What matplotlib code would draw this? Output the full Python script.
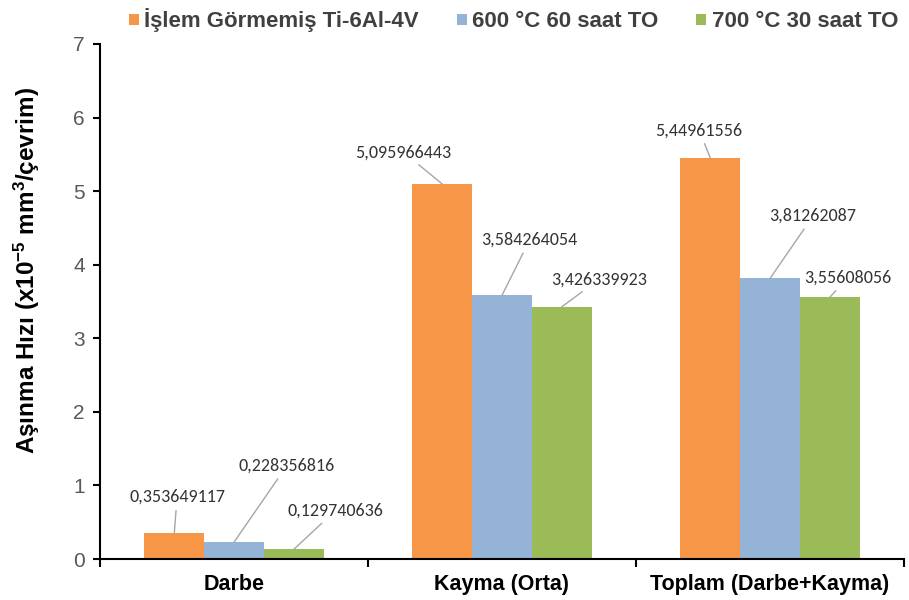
import matplotlib
matplotlib.use("Agg")
import matplotlib.pyplot as plt
import numpy as np

categories = ["Darbe", "Kayma (Orta)", "Toplam (Darbe+Kayma)"]
series_names = ["İşlem Görmemiş Ti-6Al-4V", "600 °C 60 saat TO", "700 °C 30 saat TO"]
untreated = [0.353649117, 5.095966443, 5.44961556]
treated_600 = [0.228356816, 3.584264054, 3.81262087]
treated_700 = [0.129740636, 3.426339923, 3.55608056]
y_ticks = [0, 1, 2, 3, 4, 5, 6, 7]

colors = ["#F79646", "#95B3D7", "#9BBB59"]
# label offsets (points) from each bar's top centre, per series then category
label_offsets = [
    [(2, 26), (-28, 23), (-8, 20)],
    [(38, 55), (20, 40), (31, 45)],
    [(30, 28), (27, 20), (13, 14)],
]

plt.rcParams["font.family"] = ["Liberation Sans", "DejaVu Sans"]
plt.rcParams["mathtext.fontset"] = "custom"
plt.rcParams["mathtext.rm"] = "Liberation Sans:bold"
plt.rcParams["mathtext.it"] = "Liberation Sans:bold"
plt.rcParams["mathtext.bf"] = "Liberation Sans:bold"

fig = plt.figure(figsize=(9.09, 6.0), dpi=100)
ax = fig.add_axes([0.110, 0.0683, 0.8845, 0.8584])

x = np.arange(len(categories))
width = 0.2227
data = [untreated, treated_600, treated_700]
bars = []
for i, (vals, c) in enumerate(zip(data, colors)):
    b = ax.bar(x + (i - 1) * width, vals, width, color=c, edgecolor="none",
               label=series_names[i], zorder=2)
    bars.append(b)
    for j, rect in enumerate(b):
        v = vals[j]
        txt = str(v).replace(".", ",")
        ax.annotate(txt, xy=(rect.get_x() + rect.get_width() / 2, v),
                    xytext=label_offsets[i][j], textcoords="offset points",
                    ha="center", va="center", fontsize=13, color="#333333",
                    family=["Carlito", "Lato", "DejaVu Sans"],
                    arrowprops=dict(arrowstyle="-", color="#A6A6A6", lw=1.0,
                                    shrinkA=2, shrinkB=0))

ax.set_xlim(-0.5, 2.5)
ax.set_ylim(0, 7)
ax.set_yticks(y_ticks)
ax.set_yticklabels([str(t) for t in y_ticks], fontsize=15, color="#595959")
ax.set_xticks(x)
ax.set_xticklabels(categories, fontsize=15.5, fontweight="bold", color="#000000")
ax.tick_params(axis="x", length=0, pad=11)
ax.set_xticks([-0.5, 0.5, 1.5, 2.5], minor=True)
ax.tick_params(axis="x", which="minor", length=6, width=1.5, direction="out")
ax.tick_params(axis="y", length=5, width=1.5, direction="out", pad=6)

for s in ["top", "right"]:
    ax.spines[s].set_visible(False)
for s in ["left", "bottom"]:
    ax.spines[s].set_linewidth(1.5)
    ax.spines[s].set_color("#000000")

ax.set_ylabel(r"Aşınma Hızı (x10$^{-5}$ mm$^{3}$/çevrim)", fontsize=17.5,
              fontweight="bold")
ax.yaxis.set_label_coords(-0.072, 0.56)

leg = fig.legend(handles=bars, labels=series_names, loc="center",
                 bbox_to_anchor=(0.565, 0.966), ncol=3, frameon=False,
                 handlelength=0.45, handleheight=0.45, handletextpad=0.25,
                 columnspacing=1.7,
                 prop={"family": ["Liberation Sans", "DejaVu Sans"],
                       "weight": "bold", "size": 16})
for t in leg.get_texts():
    t.set_color("#404040")

fig.savefig("out.png", dpi=100)
